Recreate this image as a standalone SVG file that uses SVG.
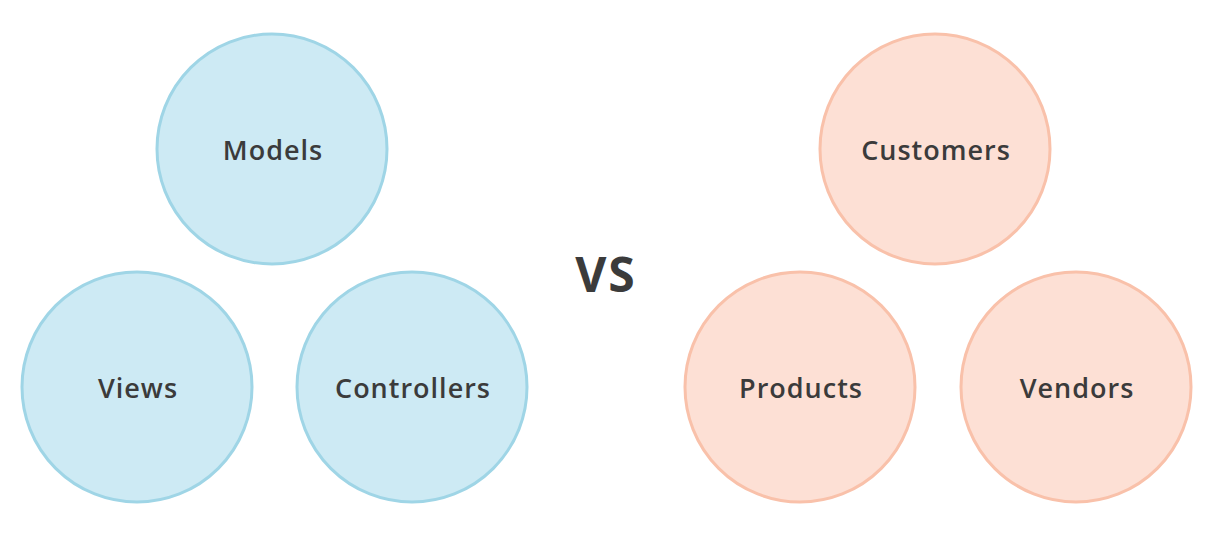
<svg xmlns="http://www.w3.org/2000/svg" width="1228" height="544" viewBox="0 0 1228 544">
<style>
.blue{fill:#cdeaf4;stroke:#9fd5e6;stroke-width:3}
.pink{fill:#fde0d5;stroke:#f9c1aa;stroke-width:3}
.lbl{font-family:"Open Sans","Liberation Sans",sans-serif;font-weight:600;font-size:27px;letter-spacing:1px;fill:#3b3b3b;text-anchor:middle;dominant-baseline:central}
.vs{font-family:"Open Sans","Liberation Sans",sans-serif;font-weight:700;font-size:48px;letter-spacing:2px;fill:#3b3b3b;text-anchor:middle;dominant-baseline:central}
</style>
<rect width="1228" height="544" fill="#ffffff"/>
<g id="models"><circle class="blue" cx="272" cy="149" r="115"/><text class="lbl" x="273" y="149">Models</text></g>
<g id="views"><circle class="blue" cx="137" cy="387" r="115"/><text class="lbl" x="138" y="387">Views</text></g>
<g id="controllers"><circle class="blue" cx="412" cy="387" r="115"/><text class="lbl" x="413" y="387">Controllers</text></g>
<g id="vs"><text class="vs" x="606" y="273">VS</text></g>
<g id="customers"><circle class="pink" cx="935" cy="149" r="115"/><text class="lbl" x="936" y="149">Customers</text></g>
<g id="products"><circle class="pink" cx="800" cy="387" r="115"/><text class="lbl" x="801" y="387">Products</text></g>
<g id="vendors"><circle class="pink" cx="1076" cy="387" r="115"/><text class="lbl" x="1077" y="387">Vendors</text></g>
<g id="connectors"></g>
</svg>
